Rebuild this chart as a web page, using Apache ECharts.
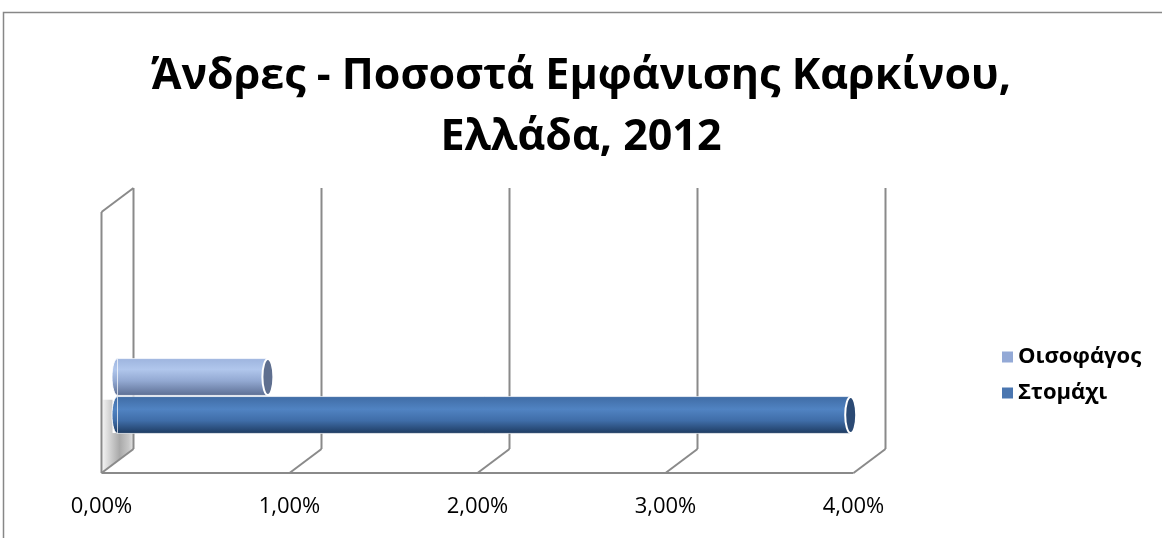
<!DOCTYPE html>
<html>
<head>
<meta charset="utf-8">
<script src="https://cdn.jsdelivr.net/npm/echarts@6/dist/echarts.min.js"></script>
<style>
  html, body { margin: 0; padding: 0; background: #fff; }
  #chart { width: 1162px; height: 538px; }
</style>
</head>
<body>
<div id="chart"></div>
<script>
// Men - cancer incidence shares, Greece 2012
const categories = ['Οισοφάγος', 'Στομάχι'];
const shares = [0.0080, 0.0390];
const tickValues = [0, 0.01, 0.02, 0.03, 0.04];
const tickLabels = ['0,00%', '1,00%', '2,00%', '3,00%', '4,00%'];

const AXIS_MIN = 0, AXIS_MAX = 0.04, AXIS_STEP = 0.01;
const FONT = '"Open Sans", "Noto Sans", sans-serif';

// half of the box depth (the mid plane sits between back wall and front edge)
const DX = 16, DY = 12;

// legend colours and cylinder shading per series
const legendColors = ['#93A9D6', '#4A76B0'];
const bodyStops = [
  [[0, '#9db4de'], [0.3, '#b0c6ec'], [0.6, '#93a9d2'], [1, '#5b6d92']],
  [[0, '#3f6ba4'], [0.35, '#5083c2'], [0.65, '#3f6da8'], [1, '#1d395e']]
];
const capColors = ['#5f6f8f', '#2b4a74'];

const chart = echarts.init(document.getElementById('chart'), null, { renderer: 'canvas' });

function gradient(stops) {
  return new echarts.graphic.LinearGradient(0, 0, 0, 1,
    stops.map(s => ({ offset: s[0], color: s[1] })));
}

// back wall verticals, floor diagonals, side wall and front floor edge
function renderBox(params, api) {
  const v = api.value(0);
  const b = api.coord([v, 0]);
  const t = api.coord([v, 1]);
  const line = { stroke: '#8a8a8a', lineWidth: 2 };
  const children = [];
  if (params.dataIndex === 0) {
    const fx = b[0] - DX, bx = b[0] + DX;
    const yBar = api.coord([0, 0.107])[1];
    const yBarTop = api.coord([0, 0.235])[1];
    children.push({
      type: 'polygon',
      shape: { points: [[fx + 1, yBarTop], [fx + 11, yBarTop], [fx + 11, yBar], [bx, yBar], [bx, b[1] - DY], [fx + 1, b[1] + DY - 1]] },
      style: {
        fill: new echarts.graphic.LinearGradient(0, 0, 1, 0, [
          { offset: 0, color: '#f2f2f2' }, { offset: 0.55, color: '#a9a9a9' },
          { offset: 0.85, color: '#c8c8c8' }, { offset: 1, color: '#e6e6e6' }
        ])
      }
    });
    children.push({ type: 'line', shape: { x1: fx, y1: t[1] + DY, x2: fx, y2: b[1] + DY }, style: line });
    children.push({ type: 'line', shape: { x1: fx, y1: t[1] + DY, x2: bx, y2: t[1] - DY }, style: line });
    const end = api.coord([AXIS_MAX, 0]);
    children.push({ type: 'line', shape: { x1: fx, y1: b[1] + DY, x2: end[0] - DX, y2: b[1] + DY }, style: line });
  }
  children.push({ type: 'line', shape: { x1: b[0] + DX, y1: t[1] - DY, x2: b[0] + DX, y2: b[1] - DY }, style: line });
  children.push({ type: 'line', shape: { x1: b[0] + DX, y1: b[1] - DY, x2: b[0] - DX, y2: b[1] + DY }, style: line });
  return { type: 'group', children };
}

// horizontal cylinder from 0 to the value
function renderCylinder(params, api) {
  const si = params.seriesIndex - 1;
  const v = api.value(0);
  const row = api.value(1);
  const s = api.coord([0, row]);
  const e = api.coord([v, row]);
  const h = api.size([0, 1])[1] * 0.97;
  const ry = h / 2, rx = 5.5;
  const fill = gradient(bodyStops[si]);
  return {
    type: 'group',
    children: [
      { type: 'ellipse', shape: { cx: s[0], cy: s[1], rx: rx, ry: ry },
        style: { fill: fill, stroke: 'rgba(255,255,255,0.9)', lineWidth: 1 } },
      { type: 'rect', shape: { x: s[0], y: s[1] - ry, width: e[0] - s[0], height: h },
        style: { fill: fill, stroke: 'rgba(255,255,255,0.7)', lineWidth: 1 } },
      { type: 'ellipse', shape: { cx: e[0], cy: e[1], rx: rx, ry: ry - 0.5 },
        style: { fill: capColors[si], stroke: '#ffffff', lineWidth: 2 } }
    ]
  };
}

const valueAxis = (gridIndex, show) => ({
  type: 'value', gridIndex, min: AXIS_MIN, max: AXIS_MAX, interval: AXIS_STEP,
  show: show, axisLine: { show: false }, axisTick: { show: false }, splitLine: { show: false },
  axisLabel: {
    show: show, margin: 23, color: '#000', fontSize: 22, fontFamily: FONT,
    formatter: (val) => tickLabels[tickValues.findIndex(t => Math.abs(t - val) < 1e-9)]
  }
});

const option = {
  backgroundColor: '#ffffff',
  animation: false,
  title: {
    text: 'Άνδρες - Ποσοστά Εμφάνισης Καρκίνου,\nΕλλάδα, 2012',
    left: 'center', top: 41,
    textStyle: { fontFamily: FONT, fontWeight: 'bold', fontSize: 43, lineHeight: 61, color: '#000' }
  },
  legend: {
    data: categories,
    orient: 'vertical', left: 997, top: 341, itemGap: 14,
    icon: 'rect', itemWidth: 11, itemHeight: 11, itemStyle: { borderWidth: 0 },
    textStyle: { fontFamily: FONT, fontWeight: 'bold', fontSize: 22, color: '#000' }
  },
  graphic: [{
    type: 'rect', silent: true, z: -1,
    shape: { x: 3.5, y: 12.5, width: 1300, height: 700 },
    style: { fill: 'none', stroke: '#878787', lineWidth: 1.5 }
  }],
  grid: [
    { left: 117.5, top: 200, width: 752, height: 261 },   // mid plane of the box
    { left: 117.5, top: 358, width: 752, height: 76 },    // cylinder rows
    { left: 101.5, top: 470, width: 752, height: 3 }      // front edge labels
  ],
  xAxis: [valueAxis(0, false), valueAxis(1, false), valueAxis(2, true)],
  yAxis: [
    { type: 'value', gridIndex: 0, min: 0, max: 1, show: false },
    { type: 'category', gridIndex: 1, data: categories, inverse: true, show: false },
    { type: 'value', gridIndex: 2, show: false }
  ],
  series: [
    {
      type: 'custom', name: 'box', xAxisIndex: 0, yAxisIndex: 0, silent: true, z: 1,
      data: tickValues.map(v => [v]),
      encode: { x: 0 },
      renderItem: renderBox
    }
  ].concat(categories.map((name, i) => ({
    type: 'custom', name: name, xAxisIndex: 1, yAxisIndex: 1, z: 2,
    itemStyle: { color: legendColors[i] },
    data: [[shares[i], i]],
    encode: { x: 0, y: 1 },
    renderItem: renderCylinder
  })))
};

chart.setOption(option);
</script>
</body>
</html>
